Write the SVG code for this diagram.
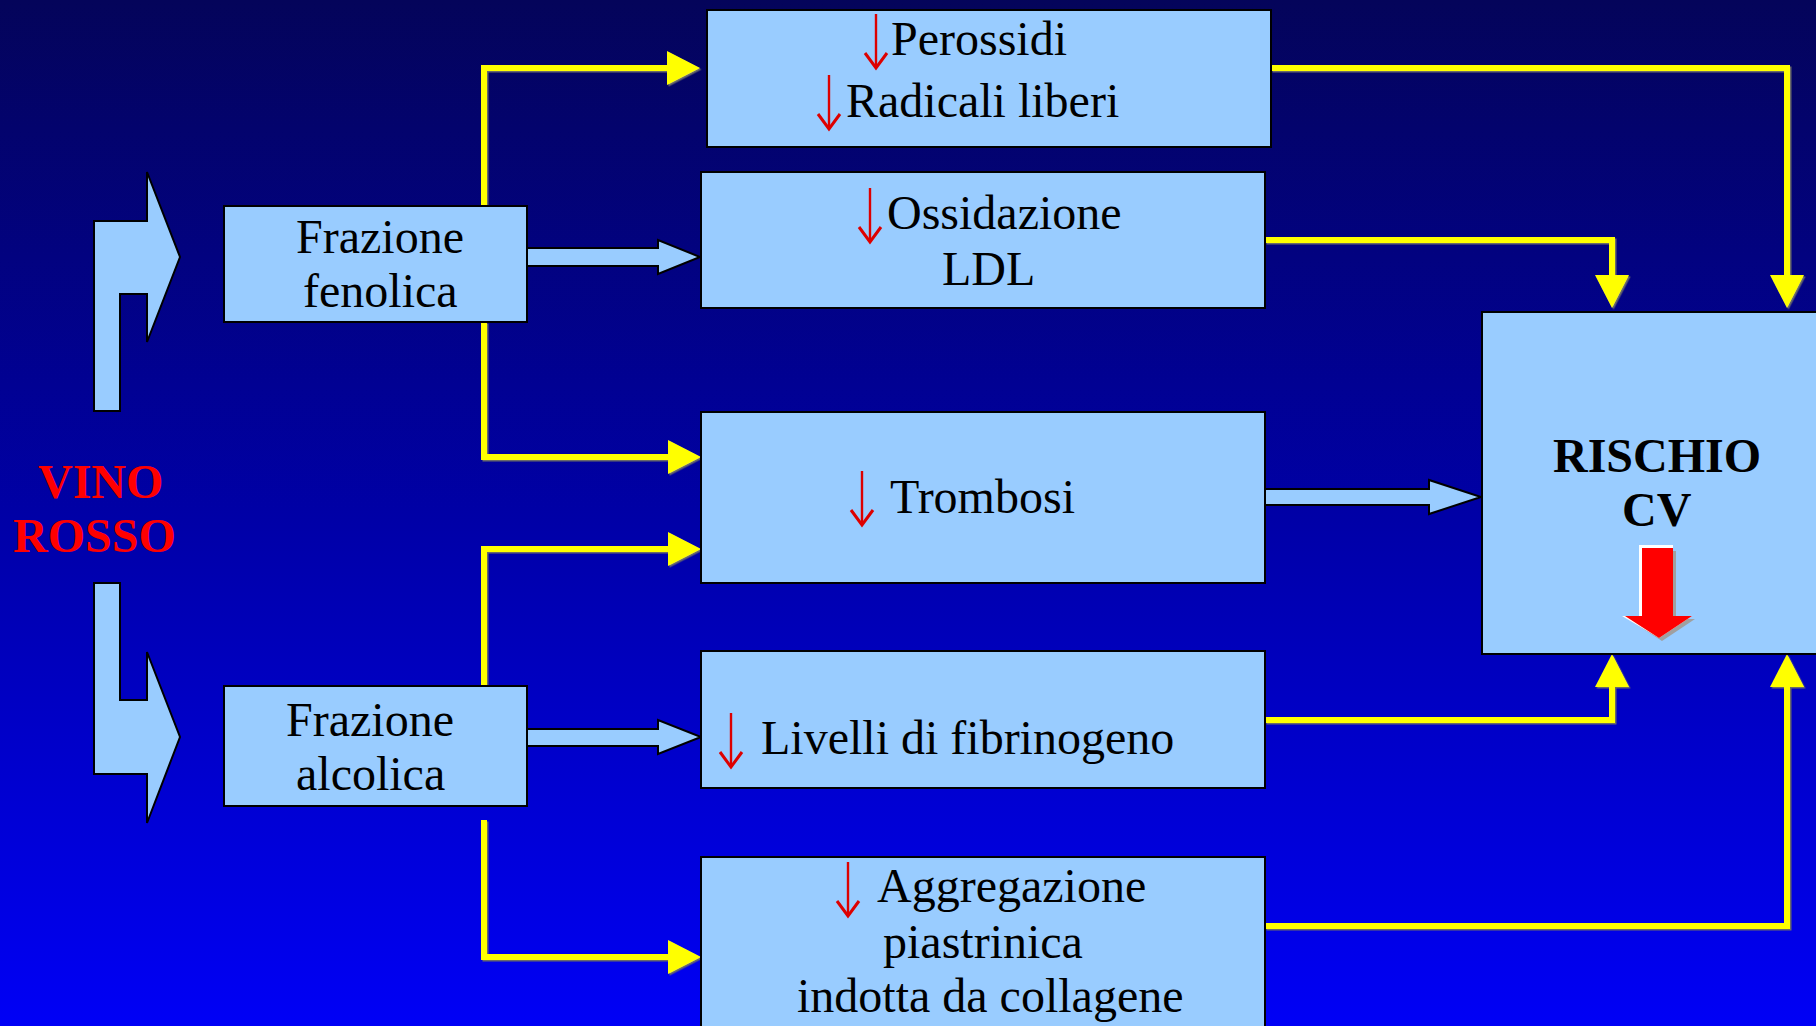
<svg xmlns="http://www.w3.org/2000/svg" xmlns:xlink="http://www.w3.org/1999/xlink" width="1816" height="1026" viewBox="0 0 1816 1026">
  <defs>
    <linearGradient id="bg" x1="0" y1="0" x2="0" y2="1">
      <stop offset="0" stop-color="#04045a"/>
      <stop offset="0.5" stop-color="#0000a6"/>
      <stop offset="1" stop-color="#0000f6"/>
    </linearGradient>
    <!-- yellow triangular head, drawn from the end of the line outward -->
    <marker id="yhead" markerUnits="userSpaceOnUse" markerWidth="36" markerHeight="36" refX="0" refY="17" orient="auto" overflow="visible">
      <path d="M0,0 L33,17 L0,34 Z" fill="#ffff00"/>
    </marker>
    <filter id="lineShadow" x="-5%" y="-5%" width="110%" height="110%">
      <feDropShadow dx="1.5" dy="1.5" stdDeviation="0" flood-color="#6a6a6a" flood-opacity="1"/>
    </filter>
    <!-- small red "decrease" arrow -->
    <g id="dn">
      <line x1="0" y1="0" x2="0" y2="54" stroke="#dd0000" stroke-width="2.4"/>
      <polyline points="-11,39 0,54 11,39" fill="none" stroke="#dd0000" stroke-width="3"/>
    </g>
  </defs>
  <style>
    .box { fill: #99ccff; stroke: #000; stroke-width: 2; }
    .blk { fill: #99ccff; stroke: #000; stroke-width: 2; stroke-linejoin: miter; }
    .t { font-family: "Liberation Serif", "Times New Roman", serif; font-size: 48px; fill: #000; }
    .b { font-family: "Liberation Serif", "Times New Roman", serif; font-size: 48px; font-weight: bold; }
    .y { fill: none; stroke: #ffff00; stroke-width: 6; stroke-linejoin: miter; stroke-linecap: butt; marker-end: url(#yhead); }
  </style>

  <rect x="0" y="0" width="1816" height="1026" fill="url(#bg)"/>

  <!-- source label -->
  <g id="vino-rosso">
    <text class="b" x="38" y="498" fill="#ff0000">VINO</text>
    <text class="b" x="13" y="552" fill="#ff0000">ROSSO</text>
  </g>

  <!-- bent block arrows leaving the label -->
  <g id="split-arrows">
    <polygon class="blk" points="94,411 94,221 147,221 147,172 180,257 147,342 147,294 120,294 120,411"/>
    <polygon class="blk" points="94,583 120,583 120,700 147,700 147,652 180,737 147,823 147,774 94,774"/>
  </g>

  <!-- connectors -->
  <g id="connectors">
    <g filter="url(#lineShadow)">
      <path class="y" d="M484,206 V68 H667"/>
      <path class="y" d="M484,322 V457 H668"/>
      <path class="y" d="M484,686 V549 H668"/>
      <path class="y" d="M484,820 V957 H668"/>
      <path class="y" d="M1271,68 H1787 V275"/>
      <path class="y" d="M1265,240 H1612 V275"/>
      <path class="y" d="M1265,720 H1612 V687"/>
      <path class="y" d="M1265,926 H1787 V687"/>
    </g>
    <polygon class="blk" points="527,248 658,248 658,240 700,257 658,274 658,266 527,266"/>
    <polygon class="blk" points="527,729 658,729 658,720 701,737 658,754 658,746 527,746"/>
    <polygon class="blk" points="1265,489 1429,489 1429,480 1481,497 1429,514 1429,505 1265,505"/>
  </g>

  <g id="frazione-fenolica">
    <rect class="box" x="224" y="206" width="303" height="116"/>
    <text class="t" x="296" y="253">Frazione</text>
    <text class="t" x="303" y="307">fenolica</text>
  </g>

  <g id="frazione-alcolica">
    <rect class="box" x="224" y="686" width="303" height="120"/>
    <text class="t" x="286" y="736">Frazione</text>
    <text class="t" x="296" y="790">alcolica</text>
  </g>

  <g id="perossidi">
    <rect class="box" x="707" y="10" width="564" height="137"/>
    <use xlink:href="#dn" x="876" y="14"/>
    <text class="t" x="891" y="55">Perossidi</text>
    <use xlink:href="#dn" x="829" y="75"/>
    <text class="t" x="846" y="117">Radicali liberi</text>
  </g>

  <g id="ossidazione">
    <rect class="box" x="701" y="172" width="564" height="136"/>
    <use xlink:href="#dn" x="870" y="188"/>
    <text class="t" x="887" y="229">Ossidazione</text>
    <text class="t" x="942" y="285">LDL</text>
  </g>

  <g id="trombosi">
    <rect class="box" x="701" y="412" width="564" height="171"/>
    <use xlink:href="#dn" x="862" y="471"/>
    <text class="t" x="890" y="513">Trombosi</text>
  </g>

  <g id="fibrinogeno">
    <rect class="box" x="701" y="651" width="564" height="137"/>
    <use xlink:href="#dn" x="731" y="713"/>
    <text class="t" x="761" y="754">Livelli di fibrinogeno</text>
  </g>

  <g id="aggregazione">
    <rect class="box" x="701" y="857" width="564" height="185"/>
    <use xlink:href="#dn" x="848" y="862"/>
    <text class="t" x="877" y="902">Aggregazione</text>
    <text class="t" x="883" y="958">piastrinica</text>
    <text class="t" x="797" y="1012">indotta da collagene</text>
  </g>

  <g id="rischio-cv">
    <rect class="box" x="1482" y="312" width="350" height="342"/>
    <text class="b" x="1553" y="472" fill="#000">RISCHIO</text>
    <text class="b" x="1622" y="526" fill="#000">CV</text>
    <!-- big red arrow with light edge and grey shadow -->
    <polygon points="1645,551 1676,551 1676,619 1695,619 1662,641 1628,619 1645,619" fill="#a0a0a0"/>
    <polygon points="1639,545 1673,545 1673,616 1692,616 1659,638 1622,616 1639,616" fill="#ffffff"/>
    <polygon points="1642,548 1673,548 1673,616 1692,616 1659,638 1625,616 1642,616" fill="#ff0000"/>
  </g>
</svg>
